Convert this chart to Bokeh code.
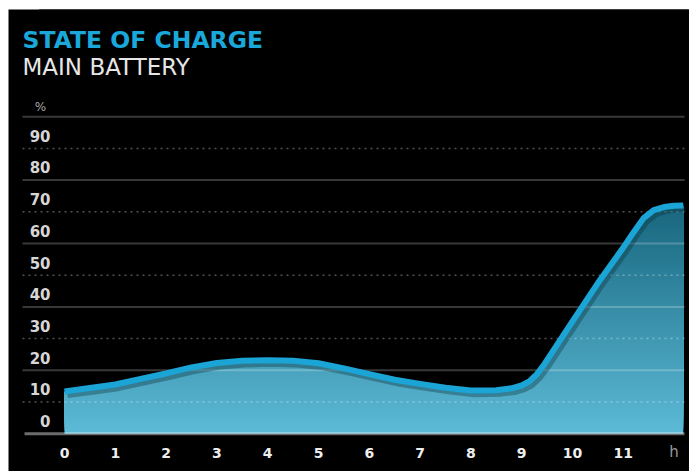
import numpy as np
from bokeh.plotting import figure
from bokeh.models import Range1d
from bokeh.core.properties import value
from bokeh.embed import file_html
from bokeh.resources import INLINE

# ---- data ----
hours = [0, 0.5, 1, 1.5, 2, 2.5, 3, 3.5, 4, 4.5, 5, 5.5, 6, 6.5, 7, 7.5, 8,
         8.5, 8.8, 9.0, 9.15, 9.3, 9.45, 10, 10.5, 11, 11.2, 11.4, 11.6,
         11.8, 12, 12.18]
charge = [9.3, 10.4, 11.5, 13.3, 15.0, 16.9, 18.3, 19.0, 19.2, 19.0, 18.2,
          16.6, 14.8, 13.0, 11.7, 10.5, 9.6, 9.7, 10.3, 11.2, 12.5, 14.8,
          18.0, 31.4, 43.5, 54.7, 59.5, 64.0, 66.5, 67.5, 67.9, 68.0]
y_ticks = [0, 10, 20, 30, 40, 50, 60, 70, 80, 90]
y_tick_labels = ["0", "10", "20", "30", "40", "50", "60", "70", "80", "90"]
x_ticks = list(range(12))
x_tick_labels = [str(h) for h in x_ticks]
x_unit_tick = 12
x_unit_label = "h"
y_unit_label = "%"
grid_solid = [16, 36, 56, 76, 96]
grid_dotted = [6, 26, 46, 66, 86]
baseline = -4
title_text = "STATE OF CHARGE"
subtitle_text = "MAIN BATTERY"

# ---- layout (page pixels -> data) ----
W, H = 689, 471
LEFT, TOP = 8, 9
PX_X, PX_Y = 50.8, 3.17
frame_w, frame_h = W - LEFT, H - TOP
x0 = (LEFT - 64) / PX_X
x1 = x0 + frame_w / PX_X
y0 = (420.5 - H) / PX_Y
y1 = y0 + frame_h / PX_Y


def at_x(px):
    return x0 + (px - LEFT) / PX_X


def at_y(py):
    return y0 + (H - py) / PX_Y


p = figure(width=W, height=H, output_backend="svg", toolbar_location=None,
           x_range=Range1d(x0, x1), y_range=Range1d(y0, y1),
           x_axis_type=None, y_axis_type=None,
           min_border_left=LEFT, min_border_right=0, min_border_top=TOP,
           min_border_bottom=0)
p.background_fill_color = "black"
p.border_fill_color = "white"
p.outline_line_color = None
p.grid.visible = False

xs = np.array(hours, dtype=float)
vals = np.array(charge, dtype=float)

# gradient fill: stacked bands, darker towards the top ...
top_c = np.array([23, 101, 125])
bot_c = np.array([92, 186, 214])
levels = np.arange(baseline, 70, 1.0)
cols = []
for t in levels:
    py = 420.5 - PX_Y * t
    f = np.clip((py - 205) / (433 - 205), 0, 1)
    c = top_c * (1 - f) + bot_c * f
    cols.append("#%02x%02x%02x" % tuple(int(round(v)) for v in c))
p.quad(left=xs[0], right=xs[-1], bottom=levels,
       top=np.full_like(levels, 71.0), fill_color=cols, line_color=None)
# ... cut to the shape of the curve (mask reaches a little past both ends)
mx = np.concatenate([[xs[0] - 0.5], xs, [xs[-1] + 0.5]])
mv = np.concatenate([[vals[0]], vals, [vals[-1]]])
p.varea(x=mx, y1=mv, y2=np.full_like(mv, y1 + 1), fill_color="black")

# gridlines
gx0, gx1 = at_x(22), at_x(684)
p.segment(x0=gx0, x1=gx1, y0=grid_solid, y1=grid_solid, line_color="white",
          line_alpha=0.22, line_width=2)
p.segment(x0=gx0, x1=gx1, y0=grid_dotted, y1=grid_dotted,
          line_color="white", line_alpha=0.32, line_width=1.5,
          line_dash="2 4")
p.segment(x0=[at_x(24)], x1=[gx1], y0=[baseline], y1=[baseline],
          line_color="white", line_alpha=0.42, line_width=3)

# shadow + line
p.line(xs + 0.06, vals - 1.3, line_color="#0a2a35", line_alpha=0.35,
       line_width=5, line_join="round")
p.line(xs, vals, line_color="#1aa5d6", line_width=6, line_join="round")

# y labels
p.text(x=[at_x(50)] * len(y_ticks), y=y_ticks, text=y_tick_labels,
       text_font=value("DejaVu Sans"), text_font_style="bold",
       text_font_size="15px", text_color="#d6d6d6", text_align="right",
       text_baseline="middle")
p.text(x=[at_x(40)], y=[at_y(106)], text=[y_unit_label],
       text_font=value("DejaVu Sans"), text_font_size="12px",
       text_color="#a8a8a8", text_align="center", text_baseline="middle")

# x labels
p.text(x=x_ticks, y=[at_y(452)] * len(x_ticks), text=x_tick_labels,
       text_font=value("DejaVu Sans"), text_font_style="bold",
       text_font_size="14px", text_color="#eeeeee", text_align="center",
       text_baseline="middle")
p.text(x=[x_unit_tick], y=[at_y(451)], text=[x_unit_label],
       text_font=value("DejaVu Sans"), text_font_size="15px",
       text_color="#9a9a9a", text_align="center", text_baseline="middle")

# titles
p.text(x=[at_x(22)], y=[at_y(39.5)], text=[title_text],
       text_font=value("DejaVu Sans"), text_font_style="bold",
       text_font_size="23.5px", text_color="#1aa8db", text_align="left",
       text_baseline="middle")
p.text(x=[at_x(22)], y=[at_y(66.5)], text=[subtitle_text],
       text_font=value("DejaVu Sans"), text_font_size="23px",
       text_color="#e6e6e6", text_align="left", text_baseline="middle")

open("out.html", "w").write(file_html(p, INLINE))
